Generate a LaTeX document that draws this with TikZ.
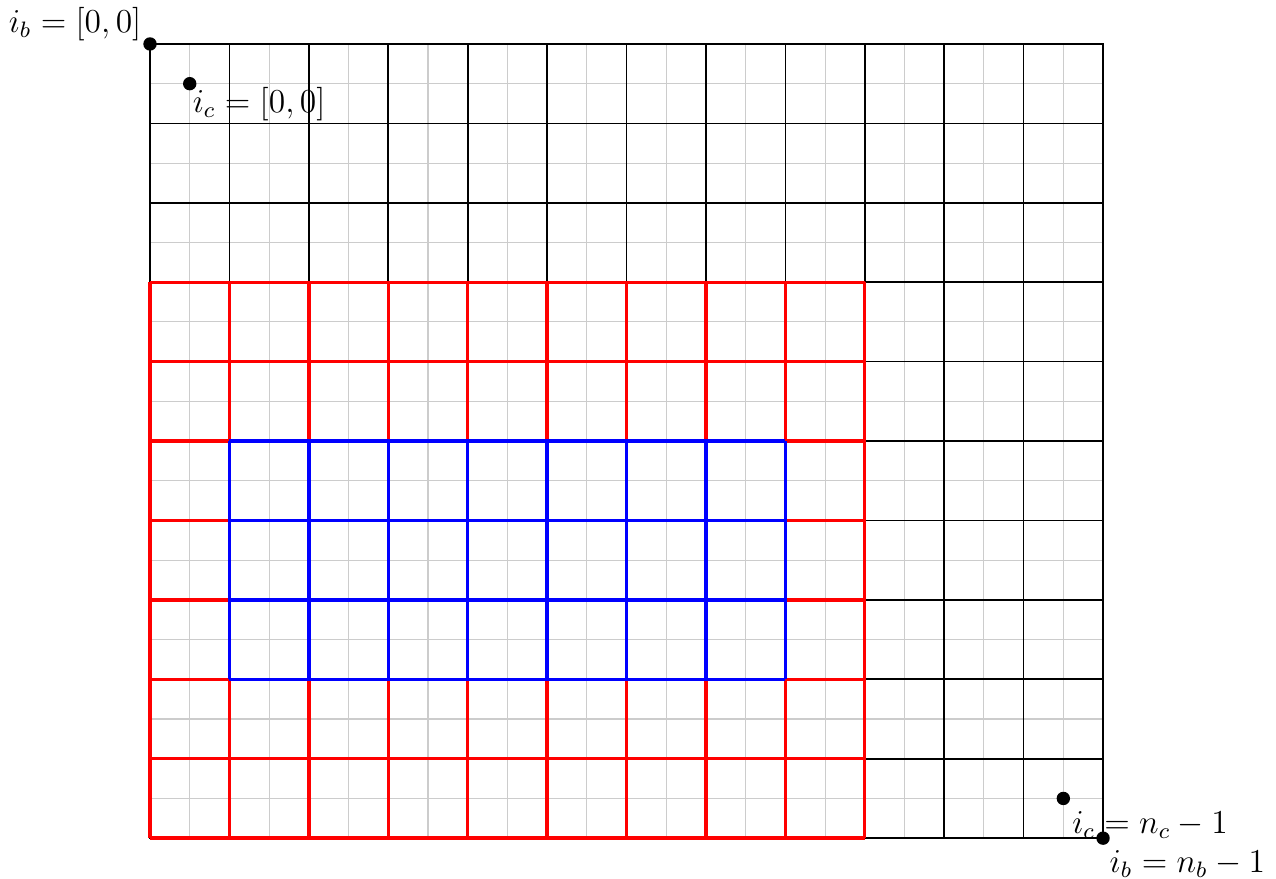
\documentclass[tikz,border=0pt]{standalone}
\usetikzlibrary{positioning}
\begin{document}
\begin{tikzpicture}[
    dot/.style = {circle, fill=black, inner sep=0pt, minimum size=4.8pt},
    idx/.style = {inner sep=0pt, font=\fontsize{11.5}{14}\selectfont}
    ]
    \useasboundingbox (-1.889,-0.504) rectangle (14.178,10.554);

    \draw[black!20] (0,0) grid[step=0.5] (12,10);
    \draw[semithick] (0,0) grid (12,10);
    \draw[thick] (0,0) rectangle (12,10);
    \draw[very thick, red] (0,0) grid (9,7);
    \draw[very thick, blue] (1,2) grid (8,5);

    \node[dot] (ib0) at (0,10) {};
    \node[dot] (ic0) at (0.5,9.5) {};
    \node[dot] (icn) at (11.5,0.5) {};
    \node[dot] (ibn) at (12,0) {};

    \node[idx, above left = 0.9pt and 2.9pt of ib0.center] (ib0lab) {$i_b = [0,0]$};
    \node[idx, below right = 1.2pt and 0.9pt of ic0.center] (ic0lab) {$i_c = [0,0]$};
    \node[idx, below right = 4.4pt and 3pt of icn.center] (icnlab) {$i_c = n_c - 1$};
    \node[idx, below right = 4.2pt and 2.2pt of ibn.center] (ibnlab) {$i_b = n_b - 1$};
\end{tikzpicture}
\end{document}
